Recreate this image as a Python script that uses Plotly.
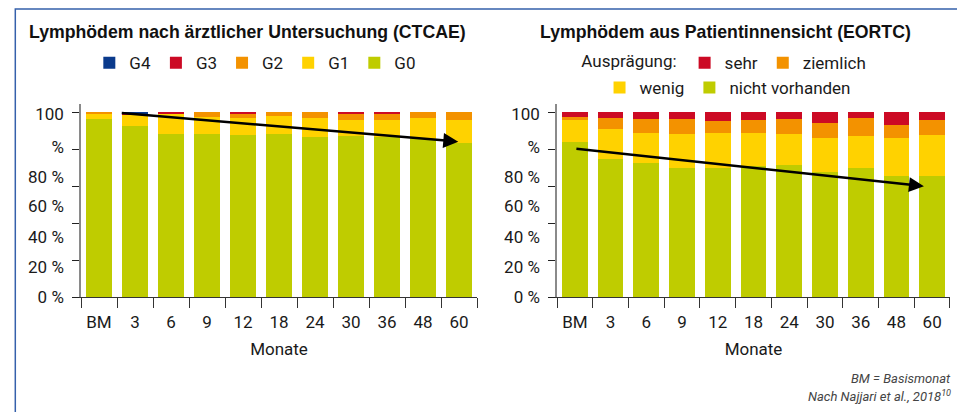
import plotly.graph_objects as go
from plotly.subplots import make_subplots

months = ["BM", "3", "6", "9", "12", "18", "24", "30", "36", "48", "60"]

# Lymphödem nach ärztlicher Untersuchung (CTCAE), Anteil in %
ctcae_g0 = [96.6, 92.4, 88.5, 88.5, 87.9, 88.4, 86.8, 87.4, 86.8, 85.6, 83.6]
ctcae_g1 = [2.3, 6.5, 10.4, 8.8, 9.2, 9.8, 10.3, 8.6, 9.2, 11.5, 12.4]
ctcae_g2 = [1.1, 0.0, 0.0, 2.7, 1.8, 1.8, 2.9, 2.9, 2.9, 2.9, 4.0]
ctcae_g3 = [0.0, 0.4, 1.1, 0.0, 1.1, 0.0, 0.0, 1.1, 1.1, 0.0, 0.0]
ctcae_g4 = [0.0, 0.7, 0.0, 0.0, 0.0, 0.0, 0.0, 0.0, 0.0, 0.0, 0.0]

# Lymphödem aus Patientinnensicht (EORTC), Anteil in %
eortc_nicht = [83.8, 74.9, 72.7, 70.0, 70.0, 71.1, 71.7, 67.9, 70.0, 65.7, 65.7]
eortc_wenig = [12.2, 16.3, 16.3, 18.5, 19.0, 17.9, 16.8, 18.4, 17.4, 20.6, 22.2]
eortc_ziemlich = [1.7, 5.9, 7.6, 8.1, 6.5, 7.0, 8.1, 8.1, 9.7, 7.0, 8.1]
eortc_sehr = [2.3, 2.9, 3.4, 3.4, 4.5, 4.0, 3.4, 5.6, 2.9, 6.7, 4.0]

# y tick labels (drawn a bit shifted, as in the original print)
ytick_text = ["0 %", "20 %", "40 %", "60 %", "80 %", "%", "100"]
ytick_pos = [0, 16.4, 32.7, 49.0, 65.2, 81.4, 99.1]

# trend arrows: (tail x, tail y, head x, head y)
arrow_ctcae = (0.59, 99.7, 9.98, 84.1)
arrow_eortc = (0.0, 80.3, 9.77, 60.0)

GREEN = "#bfcc00"
YELLOW = "#ffd200"
ORANGE = "#f39200"
RED = "#cc0a24"
NAVY = "#0a3a8c"

FONT = "Roboto"
TXT = "#1a1a1a"

fig = make_subplots(rows=1, cols=2)

left = [
    ("G0", ctcae_g0, GREEN, 5),
    ("G1", ctcae_g1, YELLOW, 4),
    ("G2", ctcae_g2, ORANGE, 3),
    ("G3", ctcae_g3, RED, 2),
    ("G4", ctcae_g4, NAVY, 1),
]
for name, vals, col, rank in left:
    fig.add_trace(
        go.Bar(x=months, y=vals, name=name, marker=dict(color=col, line=dict(width=0)),
               legend="legend", legendrank=rank),
        row=1, col=1,
    )

right = [
    ("nicht vorhanden", eortc_nicht, GREEN, 4, "legend3"),
    ("wenig", eortc_wenig, YELLOW, 3, "legend3"),
    ("ziemlich", eortc_ziemlich, ORANGE, 2, "legend2"),
    ("sehr", eortc_sehr, RED, 1, "legend2"),
]
for name, vals, col, rank, leg in right:
    fig.add_trace(
        go.Bar(x=months, y=vals, name=name, marker=dict(color=col, line=dict(width=0)),
               legend=leg, legendrank=rank),
        row=1, col=2,
    )

tickfont = dict(family=FONT, size=17, color=TXT)

yaxis_style = dict(
    range=[0, 104.5],
    tickmode="array",
    tickvals=ytick_pos,
    ticktext=ytick_text,
    ticks="outside",
    ticklen=12,
    tickcolor="rgba(0,0,0,0)",
    showline=True,
    linecolor="#8a8a8a",
    linewidth=1.5,
    showgrid=False,
    zeroline=False,
    automargin=False,
    tickfont=tickfont,
    minor=dict(tickmode="array", tickvals=[0, 20, 40, 60, 80, 100], ticks="outside",
               ticklen=7, tickcolor="#222", tickwidth=1.2),
)
xaxis_style = dict(
    type="category",
    tickson="boundaries",
    ticks="outside",
    ticklen=10,
    tickcolor="#333",
    tickwidth=1.2,
    ticklabelstandoff=9,
    showline=True,
    linecolor="#333",
    linewidth=1.2,
    showgrid=False,
    automargin=False,
    tickfont=tickfont,
    title=dict(text="Monate", font=tickfont, standoff=12),
)

legend_common = dict(orientation="h", xanchor="center", yanchor="middle", font=tickfont,
                     bgcolor="rgba(0,0,0,0)", itemwidth=30, traceorder="normal")

# the page body adds an 8 px offset, so the figure is 8 px smaller than the window
fig.update_layout(
    width=957,
    height=404,
    margin=dict(l=73, r=15, t=96, b=115, autoexpand=False),
    paper_bgcolor="white",
    plot_bgcolor="white",
    barmode="stack",
    bargap=0.28,
    font=dict(family=FONT, size=17, color=TXT),
    xaxis=dict(domain=[0, 0.4557], **xaxis_style),
    xaxis2=dict(domain=[0.5478, 1], **xaxis_style),
    yaxis=yaxis_style,
    yaxis2=yaxis_style,
    legend=dict(x=0.2006, y=1.212, **legend_common),
    legend2=dict(x=0.7414, y=1.212, title=dict(text="Ausprägung:", font=tickfont, side="left"),
                 **legend_common),
    legend3=dict(x=0.744, y=1.083, **legend_common),
)

title_font = dict(family="Liberation Sans, Arial", size=17.7, color="#111")
annotations = [
    dict(text="<b>Lymphödem nach ärztlicher Untersuchung (CTCAE)</b>", x=0.192, y=1.373,
         xref="paper", yref="paper", showarrow=False, xanchor="center", yanchor="middle",
         font=title_font),
    dict(text="<b>Lymphödem aus Patientinnensicht (EORTC)</b>", x=0.7414, y=1.373,
         xref="paper", yref="paper", showarrow=False, xanchor="center", yanchor="middle",
         font=title_font),
    dict(text="<i>BM = Basismonat</i>", x=1.003, y=-0.42, xref="paper", yref="paper",
         showarrow=False, xanchor="right", yanchor="middle",
         font=dict(family=FONT, size=13, color="#444")),
    dict(text="<i>Nach Najjari et al., 2018<sup>10</sup></i>", x=1.003, y=-0.513,
         xref="paper", yref="paper", showarrow=False, xanchor="right", yanchor="middle",
         font=dict(family=FONT, size=13, color="#444")),
]
for (ax0, ay0, hx, hy), xr, yr in [(arrow_ctcae, "x", "y"), (arrow_eortc, "x2", "y2")]:
    annotations.append(
        dict(text="", x=hx, y=hy, ax=ax0, ay=ay0, xref=xr, yref=yr, axref=xr, ayref=yr,
             showarrow=True, arrowhead=2, arrowsize=1.2, arrowwidth=2.5, arrowcolor="black")
    )
fig.update_layout(annotations=annotations)

# blue frame around the figure (open to the right and bottom)
fig.add_shape(type="rect", xref="paper", yref="paper", x0=-0.0756, x1=1.2, y0=-1.5, y1=1.492,
              line=dict(color="#3560ab", width=1.5), fillcolor="rgba(0,0,0,0)", layer="below")

fig.write_html("out.html")
